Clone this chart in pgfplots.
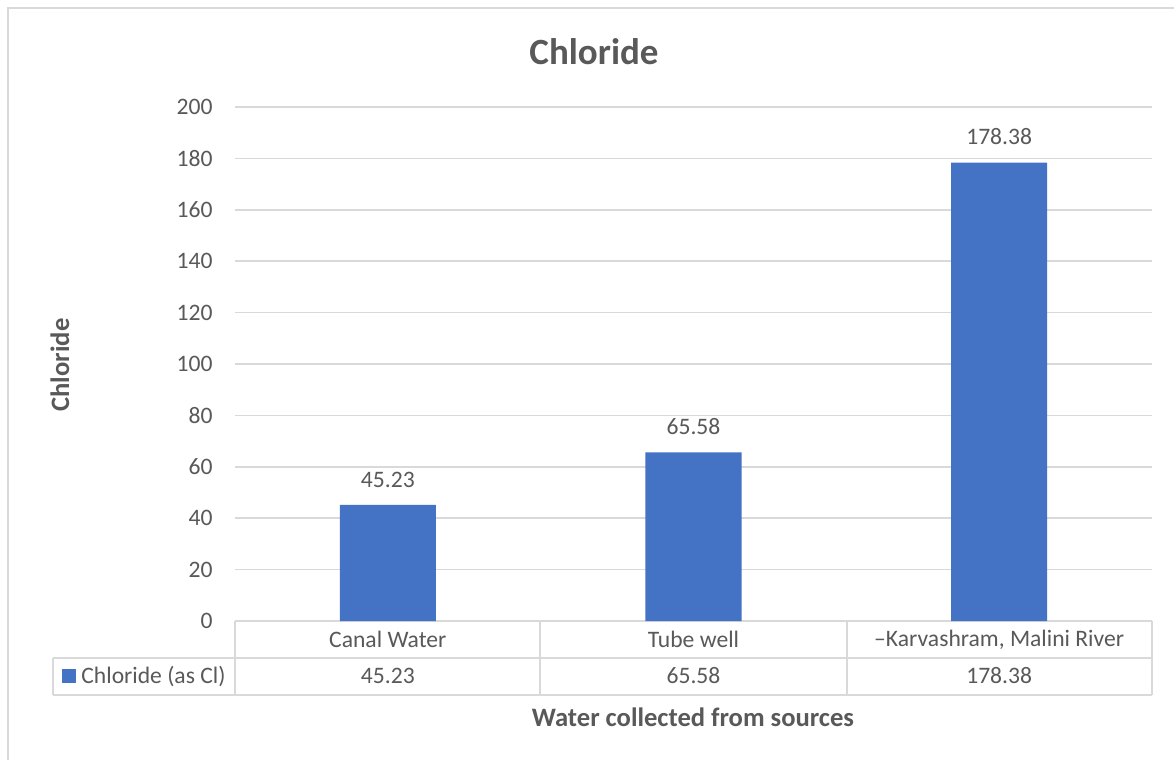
\documentclass[border=0pt]{standalone}
\usepackage{pgfplots}
\pgfplotsset{compat=1.18}
\usepackage{fontspec}
\setmainfont{Carlito}
\definecolor{barblue}{RGB}{68,114,196}
\definecolor{txt}{RGB}{89,89,89}
\definecolor{gridc}{RGB}{217,217,217}
\newcommand{\lbl}{\fontsize{11.8}{13}\selectfont}

\begin{document}
\begin{tikzpicture}
% page frame, 1 px = 0.5pt
\begin{scope}[x=0.5pt,y=-0.5pt]
  \useasboundingbox (0,0) rectangle (1174,760);
  \fill[white] (0,0) rectangle (1174,760);
  \draw[gridc, line width=0.75pt] (8,775) -- (8,8) -- (1185,8);
  \node[txt, font=\bfseries\fontsize{18.5}{20}\selectfont] at (594,52) {Chloride};
  \node[txt, font=\bfseries\fontsize{13.3}{15}\selectfont, rotate=90] at (60,365) {Chloride};
  \node[txt, font=\bfseries\fontsize{13.3}{15}\selectfont] at (693,717) {Water collected from sources};
\end{scope}

\begin{axis}[
    at={(117.5pt,-310.5pt)}, anchor=south west,
    scale only axis, width=458.5pt, height=257pt,
    ymin=0, ymax=200, ytick={0,20,...,200},
    xmin=-0.5, xmax=2.5, xtick=data,
    xticklabels={Canal Water, Tube well, {–Karvashram, Malini River}},
    axis x line*=bottom, axis y line*=left,
    y axis line style={draw=none},
    x axis line style={gridc, line width=0.75pt},
    major tick length=0pt,
    ymajorgrids, grid style={gridc, line width=0.75pt},
    tick label style={txt, font=\lbl},
    /pgf/number format/assume math mode=true,
    yticklabel style={inner sep=0pt, xshift=-11pt},
    xticklabel style={anchor=center, inner sep=0pt, yshift=-9.25pt},
    clip=false,
    ybar, bar width=48pt,
    nodes near coords,
    nodes near coords style={txt, font=\lbl, inner sep=0pt, yshift=8.5pt,
      /pgf/number format/.cd, fixed, fixed zerofill, precision=2, assume math mode=true},
]
\addplot[fill=barblue, draw=none] coordinates {(0,45.23) (1,65.58) (2,178.38)};
\node[txt, font=\lbl] at (axis cs:0,-21.4) {45.23};
\node[txt, font=\lbl] at (axis cs:1,-21.4) {65.58};
\node[txt, font=\lbl] at (axis cs:2,-21.4) {178.38};
\end{axis}

% data table below the axis
\begin{scope}[x=0.5pt,y=-0.5pt]
  \draw[gridc, line width=0.75pt] (53,658) -- (1152,658);
  \draw[gridc, line width=0.75pt] (53,695) -- (1152,695);
  \draw[gridc, line width=0.75pt] (53,658) -- (53,695);
  \foreach \xx in {235,540,847,1152} {
    \draw[gridc, line width=0.75pt] (\xx,621) -- (\xx,695);
  }
  \fill[barblue] (62,669) rectangle (76,683);
  \node[txt, font=\lbl, anchor=west, inner sep=0pt] at (81,676) {Chloride (as Cl)};
\end{scope}
\end{tikzpicture}
\end{document}
